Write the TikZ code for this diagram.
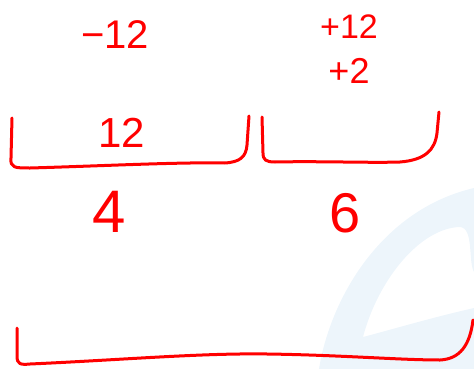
\documentclass[tikz,border=0pt]{standalone}
\usepackage{fontspec}
\setmainfont{Liberation Sans}
\usepackage{tikz}
\usepackage{xcolor}
\usetikzlibrary{positioning}
\definecolor{inkred}{HTML}{FF0000}
\definecolor{markblue}{HTML}{EDF5FB}
\tikzset{
  brack/.style={draw=inkred, line width=3pt, line cap=round, line join=round},
  num/.style={text=inkred, inner sep=0pt},
  logo/.style={fill=markblue, draw=none, even odd rule},
}
\newcommand{\hand}[1]{\fontsize{#1}{#1}\selectfont}

\begin{document}
\begin{tikzpicture}[x=1pt, y=-1pt]
  \useasboundingbox (0,0) rectangle (474,369);
  % faint logo in the corner
  \path[logo] (319,369) .. controls (330,300) and (380,210) .. (474,188) -- (474,369) -- cycle
    (363,337) .. controls (378,280) and (420,228) .. (460,227)
    .. controls (474,228) and (468,262) .. (474,272) -- (474,308)
    .. controls (430,318) and (390,330) .. (363,337) -- cycle;
  % numbers
  \node (minus)   [num] at (115,35) {\hand{40}−12};
  \node (plusten) [num] at (349,27) {\hand{34}+12};
  \node (plustwo) [num, below=19pt of plusten] {\hand{36}+2};
  \node (inner)   [num] at (122,133) {\hand{42}12};
  \node (four)    [num] at (109,212) {\hand{60}4};
  \node (six)     [num] at (345,213) {\hand{56}6};
  % brackets
  \draw[brack] (12,118) -- (11,158) .. controls (10,168) and (15,168) .. (30,168)
    .. controls (100,166) and (180,162) .. (225,163)
    .. controls (240,162) and (246,157) .. (247,145) -- (249,116);
  \draw[brack] (262,117) -- (263,153) .. controls (263,160) and (266,162) .. (275,162)
    .. controls (320,161) and (370,163) .. (400,162)
    .. controls (425,160) and (435,150) .. (437,133) -- (439,112);
  \draw[brack] (17,328) -- (17,356) .. controls (17,364) and (20,365) .. (30,364)
    .. controls (120,360) and (200,353) .. (267,354)
    .. controls (340,355) and (400,360) .. (440,360)
    .. controls (460,359) and (470,345) .. (473,320);
\end{tikzpicture}
\end{document}
